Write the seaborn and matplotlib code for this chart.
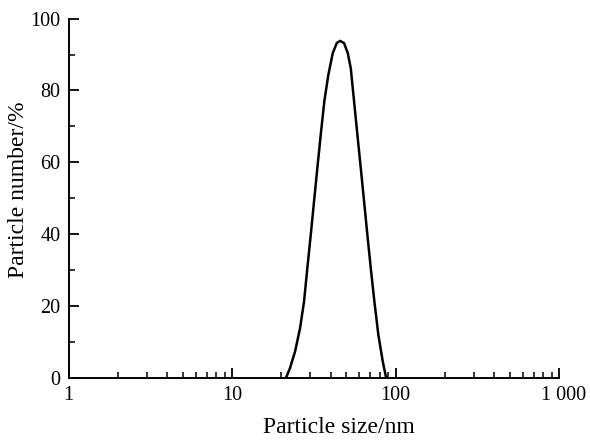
import numpy as np
import pandas as pd
import matplotlib
matplotlib.use("Agg")
import matplotlib.pyplot as plt
import matplotlib.transforms as mtransforms
from matplotlib.ticker import FixedLocator, FixedFormatter, LogLocator, MultipleLocator, NullFormatter
import seaborn as sns

# Particle size distribution (number %)
particle_size = [21.38, 22.62, 24.27, 26.04, 27.54, 28.85, 30.27, 31.71, 33.22, 34.85,
                 36.66, 38.80, 41.28, 43.67, 45.75, 48.40, 51.00, 53.19, 55.72, 58.38,
                 61.24, 64.16, 67.21, 70.51, 74.19, 78.47, 83.50, 87.49]
particle_number = [0.0, 2.7, 7.3, 13.8, 21.2, 30.5, 39.8, 49.1, 58.4, 67.7,
                   77.0, 84.4, 90.4, 93.2, 93.8, 93.2, 90.4, 86.2, 77.0, 67.7,
                   58.4, 49.1, 39.8, 30.5, 21.2, 11.9, 4.5, 0.0]

x_ticks = [1, 10, 100, 1000]
x_tick_labels = ["1", "10", "100", "1 000"]
y_ticks = [0, 20, 40, 60, 80, 100]

df = pd.DataFrame({"size": particle_size, "number": particle_number})

sns.set_theme(style="ticks")
plt.rcParams["font.family"] = ["Liberation Serif", "DejaVu Serif"]

fig = plt.figure(figsize=(5.9, 4.41), dpi=100)
ax = fig.add_axes([0.1164, 0.1436, 0.8311, 0.8141])

sns.lineplot(data=df, x="size", y="number", color="black", linewidth=1.8, ax=ax)

ax.set_xscale("log")
ax.set_xlim(1, 1000)
ax.set_ylim(0, 100)

ax.xaxis.set_major_locator(FixedLocator(x_ticks))
ax.xaxis.set_major_formatter(FixedFormatter(x_tick_labels))
ax.xaxis.set_minor_locator(LogLocator(base=10, subs=np.arange(2, 10)))
ax.xaxis.set_minor_formatter(NullFormatter())
ax.yaxis.set_major_locator(FixedLocator(y_ticks))
ax.yaxis.set_minor_locator(MultipleLocator(10))

for side in ("top", "right"):
    ax.spines[side].set_visible(False)
for side in ("left", "bottom"):
    ax.spines[side].set_linewidth(1.4)
    ax.spines[side].set_color("black")

ax.tick_params(which="major", direction="in", length=7, width=1.3, colors="black",
               labelsize=14.5, pad=6)
ax.tick_params(which="minor", direction="in", length=4, width=1.1, colors="black")

# nudge the last x tick label slightly right
last_label = ax.get_xticklabels()[-1]
last_label.set_transform(last_label.get_transform() +
                         mtransforms.ScaledTranslation(5 / 100, 0, fig.dpi_scale_trans))

ax.set_xlabel("")
ax.set_ylabel("")
fig.text(0.574, 0.030, "Particle size/nm", fontsize=17, color="black",
         ha="center", va="center")
fig.text(0.031, 0.569, "Particle number/%", fontsize=17, color="black",
         ha="center", va="center", rotation=90)

fig.savefig("out.png", dpi=100, facecolor="white")
